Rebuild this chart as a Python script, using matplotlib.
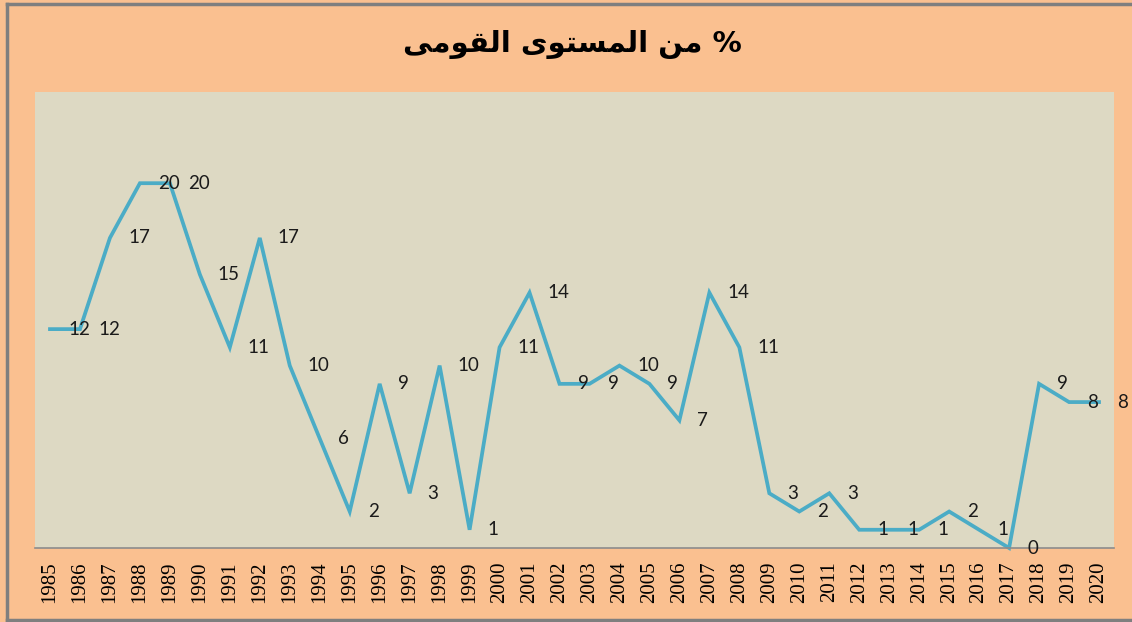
import matplotlib
matplotlib.use("Agg")
import matplotlib.pyplot as plt
from matplotlib.lines import Line2D
from matplotlib.font_manager import FontProperties

# data
years = list(range(1985, 2021))
values = [12, 12, 17, 20, 20, 15, 11, 17, 10, 6, 2, 9, 3, 10, 1, 11, 14, 9, 9, 10,
          9, 7, 14, 11, 3, 2, 3, 1, 1, 1, 2, 1, 0, 9, 8, 8]
title = "% من المستوى القومى"

ORANGE = "#FAC090"
PLOT_BG = "#DDD9C3"
LINE = "#4BACC6"

# presentation forms: isolated, final, initial, medial (None = does not join forward)
FORMS = {
    "ا": ("\uFE8D", "\uFE8E", None, None),
    "ل": ("\uFEDD", "\uFEDE", "\uFEDF", "\uFEE0"),
    "م": ("\uFEE1", "\uFEE2", "\uFEE3", "\uFEE4"),
    "س": ("\uFEB1", "\uFEB2", "\uFEB3", "\uFEB4"),
    "ت": ("\uFE95", "\uFE96", "\uFE97", "\uFE98"),
    "و": ("\uFEED", "\uFEEE", None, None),
    "ى": ("\uFEEF", "\uFEF0", "\uFBE8", "\uFBE9"),
    "ن": ("\uFEE5", "\uFEE6", "\uFEE7", "\uFEE8"),
    "ق": ("\uFED5", "\uFED6", "\uFED7", "\uFED8"),
}


def shape_arabic(text):
    # minimal shaping + visual reordering, matplotlib does neither
    out = []
    for i, ch in enumerate(text):
        if ch not in FORMS:
            out.append(ch)
            continue
        prev = text[i - 1] if i > 0 else ""
        nxt = text[i + 1] if i + 1 < len(text) else ""
        joins_prev = prev in FORMS and FORMS[prev][2] is not None
        joins_next = nxt in FORMS and FORMS[ch][2] is not None
        iso, fin, ini, med = FORMS[ch]
        if joins_prev and joins_next:
            out.append(med)
        elif joins_prev:
            out.append(fin)
        elif joins_next:
            out.append(ini)
        else:
            out.append(iso)
    return "".join(reversed(out))


fig = plt.figure(figsize=(11.32, 6.22), dpi=100, facecolor=ORANGE)
ax = fig.add_axes([35 / 1132, 1 - 548 / 622, (1114 - 35) / 1132, (548 - 92) / 622])
ax.set_facecolor(PLOT_BG)

x = list(range(len(years)))
ax.plot(x, values, color=LINE, linewidth=2.7, solid_joinstyle="miter", clip_on=False)
for xi, v in zip(x, values):
    ax.annotate(str(v), (xi, v), xytext=(13, 0), textcoords="offset points",
                ha="left", va="center", fontsize=13.5, family="Lato",
                color="#1a1a1a", annotation_clip=False)

ax.set_xlim(-0.5, len(years) - 0.5)
ax.set_ylim(0, 25)
ax.set_xticks(x)
ax.set_yticks([])
ax.tick_params(axis="x", length=0, pad=10)
for side in ("top", "left", "right"):
    ax.spines[side].set_visible(False)
ax.spines["bottom"].set_color("#8c8c8c")
ax.spines["bottom"].set_linewidth(1.2)

# year labels drawn as plain texts under the axis
tick_font = FontProperties(family="Liberation Serif", size=15)
ax.set_xticklabels([])
for xi, yr in zip(x, years):
    ax.annotate(str(yr), (xi, 0), xytext=(0, -9.5), textcoords="offset points",
                xycoords=("data", "axes fraction"), rotation=90,
                ha="center", va="top", fontproperties=tick_font, color="black",
                annotation_clip=False)

fig.text(0.506, 0.928, shape_arabic(title), ha="center", va="center",
         fontsize=21, fontweight="bold", family=["DejaVu Sans"])

# outer chart border (left, top, bottom)
bc = "#7f7f7f"
fig.add_artist(Line2D([7 / 1132, 7 / 1132], [2 / 622, 1 - 4 / 622], color=bc, lw=2.5))
fig.add_artist(Line2D([7 / 1132, 1], [1 - 4 / 622, 1 - 4 / 622], color=bc, lw=2.5))
fig.add_artist(Line2D([7 / 1132, 1], [2 / 622, 2 / 622], color=bc, lw=2.5))

fig.savefig("out.png", dpi=100, facecolor=ORANGE)
